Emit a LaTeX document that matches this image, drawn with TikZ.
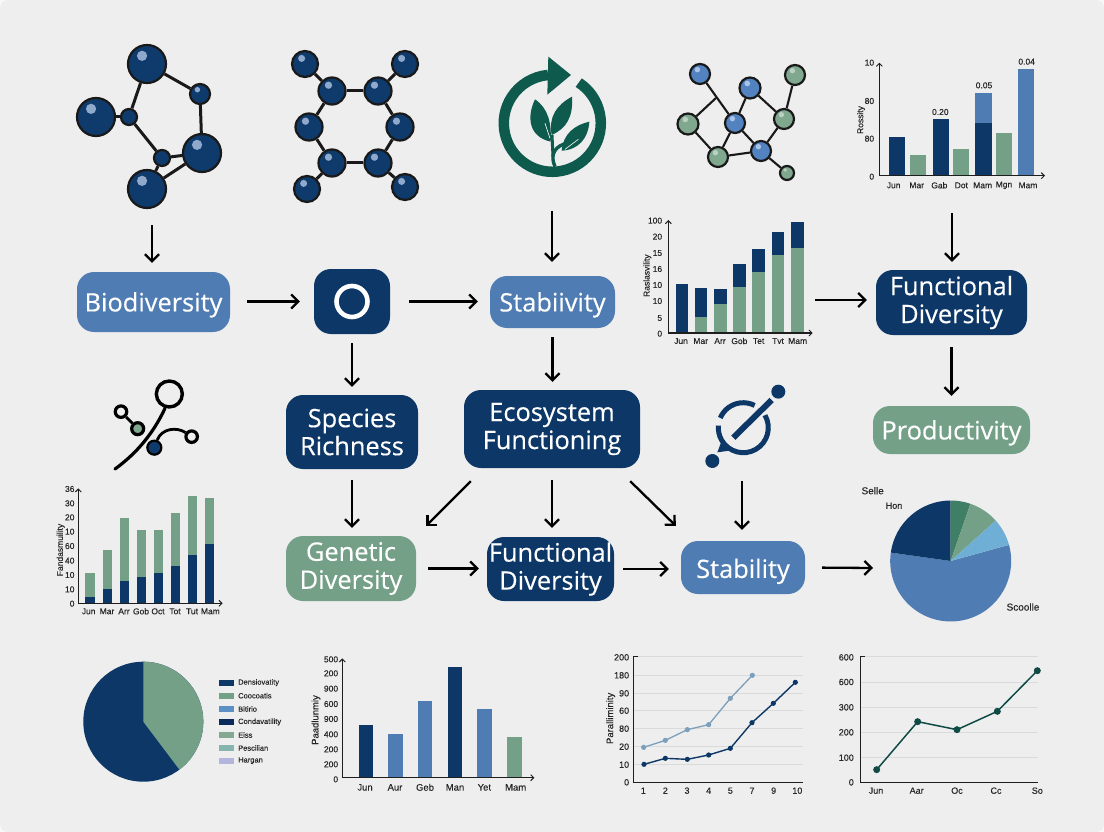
\documentclass[tikz,border=0pt]{standalone}
\usepackage{fontspec}
\setmainfont{Open Sans}
\newfontfamily\boxfont[FakeBold=0.35]{Open Sans}
\newfontfamily\chartfont[FakeBold=0.12]{Liberation Sans}
\usetikzlibrary{arrows.meta,calc}
\definecolor{navy}{HTML}{0D3766}
\definecolor{blueb}{HTML}{4F7DB3}
\definecolor{greenb}{HTML}{74A088}
\definecolor{bgc}{HTML}{EEEEEF}
\definecolor{corner}{HTML}{F8F8F8}
\definecolor{atomn}{HTML}{0F3A6C}
\definecolor{atomh}{HTML}{8FA9CC}
\definecolor{atomb}{HTML}{5283C0}
\definecolor{atombh}{HTML}{A9C4E6}
\definecolor{atomg}{HTML}{7FA88F}
\definecolor{atomgh}{HTML}{B9D0C2}
\definecolor{darkg}{HTML}{0E5A4D}
\definecolor{lined}{HTML}{0F4A45}
\definecolor{lineb}{HTML}{7C9FBB}
\definecolor{gridc}{HTML}{D9DADB}
\definecolor{axisc}{HTML}{1E1E1E}
\definecolor{pieg}{HTML}{3F7F66}
\definecolor{piel}{HTML}{6FAFD6}
\definecolor{lega}{HTML}{5C8FC4}
\definecolor{legb}{HTML}{0A2A5C}
\definecolor{legc}{HTML}{84A892}
\definecolor{legd}{HTML}{85B5AE}
\definecolor{lege}{HTML}{B4B5DC}
\tikzset{
  x=1pt,y=-1pt,
  boxst/.style={rounded corners=17pt,text=white,align=center,inner sep=0pt,
    font=\boxfont\fontsize{25.4}{28}\selectfont},
  tshift/.style={execute at begin node=\rule{0pt}{#1pt}},
  arr/.style={line width=2.3pt,black,-{Straight Barb[length=7pt,width=14pt,line width=2.3pt]}},
  atomst/.style={circle,draw=black!90,line width=2.2pt,inner sep=0pt},
  bond/.style={line width=3pt,black!90},
  netbond/.style={line width=2.1pt,black!90},
  axis/.style={line width=1.1pt,axisc,-{Straight Barb[length=3pt,width=6pt,line width=1pt]}},
  lbl/.style={font=\chartfont\fontsize{8.5}{9}\selectfont,text=black!85,inner sep=0pt},
  grid line/.style={line width=.6pt,gridc},
}
\newcount\lblc
\newcommand{\tl}[4][]{\global\advance\lblc by 1\relax
  \node[lbl,#1] (t\the\lblc) at (#2,#3) {#4};}
\newcommand{\atom}[6]{%
  \node[atomst,minimum size={2*#4 pt},fill=#5] (#1) at (#2,#3) {};
  \fill[#6] ($(#2,#3)+({-.26*#4},{-.43*#4})$) circle ({.27*#4 pt});}
\newcommand{\barz}[5]{\fill[#5] (#1,#4) rectangle (#2,#3);}
\begin{document}
\begin{tikzpicture}
\useasboundingbox (0,0) rectangle (1104,832);
\fill[corner] (0,0) rectangle (1104,832);
\fill[bgc,rounded corners=8pt] (0,0) rectangle (1104,832);

%% molecule 1
\atom{a1}{147}{64}{19}{atomn}{atomh}
\atom{a2}{96}{117}{19}{atomn}{atomh}
\atom{a3}{202}{153}{19}{atomn}{atomh}
\atom{a4}{147}{189}{19}{atomn}{atomh}
\atom{a5}{200}{94}{10}{atomn}{atomh}
\atom{a6}{129}{117}{8}{atomn}{atomn}
\atom{a7}{162}{158}{8}{atomn}{atomn}
\foreach \p/\q in {a1/a5,a5/a3,a1/a6,a2/a6,a6/a7,a7/a3,a7/a4,a4/a3}{\draw[bond] (\p) -- (\q);}

%% molecule 2
\atom{b1}{305}{64}{13}{atomn}{atomh}
\atom{b2}{405}{64}{13}{atomn}{atomh}
\atom{b3}{307}{189}{13}{atomn}{atomh}
\atom{b4}{405}{187}{13}{atomn}{atomh}
\atom{b5}{332}{91}{13.5}{atomn}{atomh}
\atom{b6}{378}{91}{13.5}{atomn}{atomh}
\atom{b7}{309}{127}{13.5}{atomn}{atomh}
\atom{b8}{400}{127}{13.5}{atomn}{atomh}
\atom{b9}{332}{163}{13.5}{atomn}{atomh}
\atom{b10}{378}{163}{13.5}{atomn}{atomh}
\foreach \p/\q in {b1/b5,b2/b6,b3/b9,b4/b10,b5/b6,b5/b7,b7/b9,b9/b10,b10/b8,b8/b6}{\draw[bond] (\p) -- (\q);}

%% recycling leaf icon
\begin{scope}[shift={(552.3,123.3)},y=1pt]
  \draw[darkg,line width=10.5pt] (57:48.5) arc (57:-265:48.5);
\end{scope}
\begin{scope}[shift={(460,20)},x=.33333pt,y=-.33333pt]
  \fill[darkg] (265,110) -- (333,165) -- (262,224) -- cycle;
  \fill[darkg] (272,365) .. controls (205,350) and (200,290) .. (225,238) .. controls (265,265) and (275,310) .. (272,365) -- cycle;
  \fill[darkg] (275,345) .. controls (265,290) and (290,255) .. (336,230) .. controls (340,290) and (320,325) .. (275,345) -- cycle;
  \fill[darkg] (305,392) .. controls (310,340) and (345,315) .. (388,305) .. controls (385,355) and (355,390) .. (305,392) -- cycle;
  \draw[darkg,line width=3.4pt] (285,440) .. controls (272,410) and (278,385) .. (312,372);
  \draw[darkg,line width=3pt] (279,410) -- (276,345);
  \draw[white,line width=.6pt] (255,310) -- (270,355);
  \draw[white,line width=.6pt] (355,358) -- (315,388);
\end{scope}
\coordinate (recout) at (552,211);

%% coloured network
\atom{c1}{700}{74}{10}{atomb}{atombh}
\atom{c2}{750}{88}{10.5}{atomb}{atombh}
\atom{c3}{795}{75}{10}{atomg}{atomgh}
\atom{c4}{688}{124}{10.5}{atomg}{atomgh}
\atom{c5}{735}{123}{10}{atomb}{atombh}
\atom{c6}{784}{119}{10}{atomg}{atomgh}
\atom{c7}{718}{157}{10}{atomg}{atomgh}
\atom{c8}{761}{151}{10}{atomb}{atombh}
\atom{c9}{787}{173}{7}{atomg}{atomgh}
\coordinate (cj) at (716,98);
\draw[netbond] (c4) -- (cj);
\foreach \p/\q in {c1/c5,c2/c5,c2/c6,c3/c6,c4/c7,c5/c7,c5/c8,c7/c8,c8/c6,c8/c9}{\draw[netbond] (\p) -- (\q);}

%% top right bar chart
\begin{scope}[shift={(860,40)},x=.33333pt,y=-.33333pt]
  \barz{87}{135}{292}{407}{navy}
  \barz{150}{198}{346}{407}{greenb}
  \barz{218}{267}{238}{407}{navy}
  \barz{280}{328}{326}{407}{greenb}
  \barz{346}{396}{158}{250}{blueb}
  \barz{346}{396}{250}{407}{navy}
  \barz{408}{456}{278}{407}{greenb}
  \barz{475}{523}{87}{407}{blueb}
  \draw[axis] (58,407) -- (58,68);
  \draw[axis] (58,407) -- (555,407);
  \tl{241}{216}{0.20}
  \tl{372}{136}{0.05}
  \tl{500}{65}{0.04}
  \tl[anchor=east]{43}{68}{10}
  \tl[anchor=east]{43}{183}{80}
  \tl[anchor=east]{43}{296}{80}
  \tl[anchor=east]{43}{410}{0}
  \tl[rotate=90]{3}{240}{Rossity}
  \foreach \xx/\lab in {101/Jun,170/Mar,238/Gab,304/Dot,368/Mam,432/Mgn,504/Mam}{\tl{\xx}{436}{\lab}}
\end{scope}
\coordinate (barout) at (952,213);

%% second bar chart
\begin{scope}[shift={(630,205)},x=.33333pt,y=-.33333pt]
  \barz{138}{175}{238}{384}{navy}
  \barz{195}{232}{337}{384}{greenb}
  \barz{195}{232}{250}{337}{navy}
  \barz{252}{290}{297}{384}{greenb}
  \barz{252}{290}{253}{297}{navy}
  \barz{309}{347}{246}{384}{greenb}
  \barz{309}{347}{178}{246}{navy}
  \barz{367}{405}{201}{384}{greenb}
  \barz{367}{405}{133}{201}{navy}
  \barz{425}{463}{150}{384}{greenb}
  \barz{425}{463}{81}{150}{navy}
  \barz{483}{521}{129}{384}{greenb}
  \barz{483}{521}{52}{129}{navy}
  \draw[axis] (115,384) -- (115,45);
  \draw[axis] (115,384) -- (548,384);
  \foreach \yy/\lab in {47/100,95/20,144/15,192/16,240/10,288/10,339/5,386/0}{\tl[anchor=east]{97}{\yy}{\lab}}
  \tl[rotate=90]{52}{212}{Raslasvility}
  \foreach \xx/\lab in {153/Jun,212/Mar,270/Arr,328/Gob,386/Tet,444/Tvt,503/Mam}{\tl{\xx}{408}{\lab}}
\end{scope}
\coordinate (ch2out) at (815,300);

%% flow boxes
\node[boxst,tshift=25,fill=blueb,minimum width=153pt,minimum height=60pt] (bio) at (153.5,302) {Biodiversity};
\node[boxst,fill=navy,minimum width=76pt,minimum height=65pt] (ring) at (352,301.5) {};
\draw[white,line width=4.6pt] (ring.center) circle (15.5pt);
\node[boxst,tshift=25,fill=blueb,minimum width=125pt,minimum height=52pt] (stab) at (552.5,302) {Stabiivity};
\node[boxst,tshift=25,fill=navy,minimum width=151pt,minimum height=65pt] (fd) at (951.5,302.5) {Functional\\Diversity};
\node[boxst,tshift=25,fill=greenb,minimum width=157pt,minimum height=48pt] (prod) at (951.5,430) {Productivity};
\node[boxst,tshift=20,fill=navy,minimum width=132pt,minimum height=74pt] (spec) at (352,432) {Species\\Richness};
\node[boxst,tshift=27,fill=navy,minimum width=176pt,minimum height=78pt] (eco) at (552,429) {Ecosystem\\Functioning};
\node[boxst,tshift=27,fill=greenb,minimum width=130pt,minimum height=65pt] (gen) at (351,568.5) {Genetic\\Diversity};
\node[boxst,tshift=27,fill=navy,minimum width=127pt,minimum height=64pt] (func) at (550.5,569) {Functional\\Diversity};
\node[boxst,tshift=27,fill=blueb,minimum width=124pt,minimum height=53pt] (stb) at (743,567.5) {Stability};

%% left curved icon
\begin{scope}[shift={(40,370)},x=.33333pt,y=-.33333pt]
  \draw[black,line width=3.2pt,line cap=round] (375,115) .. controls (340,190) and (290,250) .. (225,297);
  \node[circle,draw=black,line width=3.4pt,minimum size=26pt,inner sep=0pt] (ic1) at (388,72) {};
  \node[circle,draw=black,line width=3.2pt,minimum size=11.5pt,inner sep=0pt] (ic2) at (243,125) {};
  \node[circle,draw=black,line width=3.2pt,fill=atomg,minimum size=12pt,inner sep=0pt] (ic3) at (293,176) {};
  \node[circle,draw=black,line width=2.2pt,fill=atomn,minimum size=14pt,inner sep=0pt] (ic4) at (343,233) {};
  \node[circle,draw=black,line width=3.2pt,minimum size=11.5pt,inner sep=0pt] (ic5) at (455,200) {};
  \draw[black,line width=2.8pt] (ic2) -- (ic3);
  \draw[black,line width=2.8pt] (ic4) .. controls (365,175) and (410,170) .. (ic5);
\end{scope}

%% right pin icon
\begin{scope}[shift={(743.3,427.7)},y=1pt]
  \draw[navy,line width=5pt] (157:25) arc (157:63:25);
  \draw[navy,line width=5pt] (30:25) arc (30:-185:25);
\end{scope}
\begin{scope}[shift={(690,375)},x=.33333pt,y=-.33333pt]
  \fill[navy] (82,232) -- (125,226) -- (96,195) -- cycle;
  \draw[navy,line width=6pt] (130,188) -- (245,75);
  \node[circle,fill=navy,minimum size=14pt,inner sep=0pt] (pin1) at (265,50) {};
  \node[circle,fill=navy,minimum size=14pt,inner sep=0pt] (pin2) at (67,258) {};
\end{scope}
\coordinate (pinout) at (742,481);

%% lower left bar chart
\begin{scope}[shift={(40,370)},x=.33333pt,y=-.33333pt]
  \foreach \xa/\xb/\ga/\na in {136/164/609/680,188/216/540/658,239/267/445/634,290/318/481/622,341/369/481/608,392/420/428/588,443/471/377/556,494/522/385/523}{
    \barz{\xa}{\xb}{\ga}{\na}{greenb}
    \barz{\xa}{\xb}{\na}{700}{navy}
  }
  \draw[axis] (115,700) -- (115,355);
  \draw[axis] (115,700) -- (548,700);
  \foreach \yy/\lab in {357/36,400/30,442/20,485/10,528/60,572/40,615/10,658/10,701/0}{\tl[anchor=east]{104}{\yy}{\lab}}
  \tl[rotate=90]{62}{540}{Fandasmuility}
  \foreach \xx/\lab in {146/Jun,201/Mar,252/Arr,303/Gob,354/Oct,405/Tot,456/Tut,511/Mam}{\tl{\xx}{724}{\lab}}
\end{scope}

%% right pie
\begin{scope}[shift={(950.7,561)},y=1pt]
  \fill[blueb] (0,0) -- (15.5:60.5) arc (15.5:-188:60.5) -- cycle;
  \fill[navy] (0,0) -- (172:60.5) arc (172:90:60.5) -- cycle;
  \fill[pieg] (0,0) -- (90:60.5) arc (90:71:60.5) -- cycle;
  \fill[greenb] (0,0) -- (71:60.5) arc (71:42:60.5) -- cycle;
  \fill[piel] (0,0) -- (42:60.5) arc (42:15.5:60.5) -- cycle;
\end{scope}
\coordinate (pieout) at (873,568);
\tl[font=\chartfont\fontsize{10}{11}\selectfont]{872.7}{490.7}{Selle}
\tl[font=\chartfont\fontsize{9}{10}\selectfont]{894}{505.7}{Hon}
\tl[font=\chartfont\fontsize{10}{11}\selectfont]{1023}{607}{Scoolle}

%% lower left pie
\begin{scope}[shift={(143.3,721.7)},y=1pt]
  \fill[navy] (0,0) circle (60);
  \fill[greenb] (0,0) -- (90:60) arc (90:-53:60) -- cycle;
\end{scope}
\begin{scope}[shift={(60,640)},x=.33333pt,y=-.33333pt]
  \foreach \yy/\cc/\lab in {128/navy/Densiovatity,167/greenb/Coocoatis,207/lega/Bitirio,246/legb/Condavatility,285/legc/Eiss,324/legd/Pescilian,362/lege/Hargan}{
    \fill[\cc] (478,\yy-8.5) rectangle (522,\yy+8.5);
    \tl[anchor=west,font=\chartfont\fontsize{7.5}{8}\selectfont]{534}{\yy}{\lab}
  }
\end{scope}

%% bottom bar chart
\begin{scope}[shift={(300,640)},x=.33333pt,y=-.33333pt]
  \barz{176}{220}{255}{413}{navy}
  \barz{265}{310}{282}{413}{blueb}
  \barz{353}{397}{184}{413}{blueb}
  \barz{443}{487}{82}{413}{navy}
  \barz{532}{576}{207}{413}{blueb}
  \barz{621}{665}{292}{413}{greenb}
  \draw[axis] (127,413) -- (127,55);
  \draw[axis] (127,413) -- (703,413);
  \foreach \yy/\lab in {58/500,100/200,146/900,192/600,237/900,283/400,328/200,373/200,418/0}{\tl[anchor=east]{115}{\yy}{\lab}}
  \tl[rotate=90,font=\chartfont\fontsize{9.5}{10}\selectfont]{48}{240}{Paadlunmiy}
  \foreach \xx/\lab in {195/Jun,285/Aur,375/Geb,465/Man,553/Yet,647/Mam}{\tl[font=\chartfont\fontsize{9.5}{10}\selectfont]{\xx}{442}{\lab}}
\end{scope}

%% line charts
\begin{scope}[shift={(590,640)},x=.33333pt,y=-.33333pt]
  \foreach \yy in {50,106,160,212,265,318,373}{\draw[grid line] (130,\yy) -- (638,\yy);}
  \draw[line width=1pt,axisc] (145,50) -- (130,50) -- (130,426) -- (638,426);
  \foreach \yy/\lab in {52/200,106/180,160/90,212/60,266/80,320/20,374/10,427/0}{\tl[anchor=east,font=\chartfont\fontsize{9}{10}\selectfont]{118}{\yy}{\lab}}
  \foreach \xx/\lab in {160/1,226/2,291/3,356/4,421/5,486/7,551/9,622/10}{\tl[font=\chartfont\fontsize{9}{10}\selectfont]{\xx}{452}{\lab}}
  \tl[rotate=90,font=\chartfont\fontsize{9.5}{10}\selectfont]{62}{235}{Paralliminity}
  \draw[lineb,line width=1.3pt] (161,322) -- (226,301) -- (292,269) -- (356,254) -- (421,175) -- (487,106);
  \foreach \xx/\yy in {161/322,226/301,292/269,356/254,421/175,487/106}{\fill[lineb] (\xx,\yy) circle (2.6pt);}
  \draw[navy,line width=1.4pt] (162,373) -- (226,355) -- (292,358) -- (356,345) -- (421,325) -- (486,248) -- (550,190) -- (616,127);
  \foreach \xx/\yy in {162/373,226/355,292/358,356/345,421/325,486/248,550/190,616/127}{\fill[navy] (\xx,\yy) circle (2.6pt);}
  %% right one
  \foreach \yy in {50,126,202,277,352}{\draw[grid line] (810,\yy) -- (1345,\yy);}
  \draw[line width=1pt,axisc] (825,50) -- (810,50) -- (810,426) -- (1345,426);
  \foreach \yy/\lab in {52/600,126/600,202/300,277/200,353/100,427/0}{\tl[anchor=east,font=\chartfont\fontsize{9}{10}\selectfont]{792}{\yy}{\lab}}
  \foreach \xx/\lab in {858/Jun,980/Aar,1101/Oc,1218/Cc,1342/So}{\tl[font=\chartfont\fontsize{9}{10}\selectfont]{\xx}{452}{\lab}}
  \draw[lined,line width=1.5pt] (860,389) -- (983,245) -- (1101,269) -- (1222,214) -- (1342,92);
  \foreach \xx/\yy in {860/389,983/245,1101/269,1222/214,1342/92}{\fill[lined] (\xx,\yy) circle (3.5pt);}
\end{scope}

%% connectors
\coordinate (molout) at (152,225);
\draw[arr,shorten >=9pt] (molout) -- (molout |- bio.north);
\draw[arr,shorten <=17pt,shorten >=14pt] (bio.east |- ring.west) -- (ring.west);
\draw[arr,shorten <=19pt,shorten >=12pt] (ring.east) -- (ring.east -| stab.west);
\draw[arr,shorten >=14pt] (recout) -- (recout |- stab.north);
\draw[arr,shorten >=9pt] (ch2out) -- (ch2out -| fd.west);
\draw[arr,shorten >=8pt] (barout) -- (barout |- fd.north);
\draw[arr,shorten <=9pt,shorten >=8pt] (ring.south) -- (ring.south |- spec.north);
\draw[arr,shorten <=9pt,shorten >=8pt] (stab.south) -- (stab.south |- eco.north);
\draw[arr,shorten <=12pt,shorten >=10pt] (fd.south) -- (fd.south |- prod.north);
\draw[arr,shorten <=11pt,shorten >=8pt] (spec.south) -- (spec.south |- gen.north);
\draw[arr,shorten <=12pt,shorten >=9pt] (eco.south) -- (eco.south |- func.north);
\draw[arr] ([shift={(7,13)}]eco.south west) -- ([shift={(10,-10)}]gen.north east);
\draw[arr] ([shift={(-10,13)}]eco.south east) -- ([shift={(-5,-15)}]stb.north west);
\draw[arr,shorten >=11pt] (pinout) -- (pinout |- stb.north);
\draw[arr,shorten <=12pt,shorten >=8pt] (gen.east) -- (gen.east -| func.west);
\draw[arr,shorten <=9pt,shorten >=12pt] (func.east) -- (func.east -| stb.west);
\draw[arr,shorten <=17pt] (stb.east) -- (pieout);
\end{tikzpicture}
\end{document}
